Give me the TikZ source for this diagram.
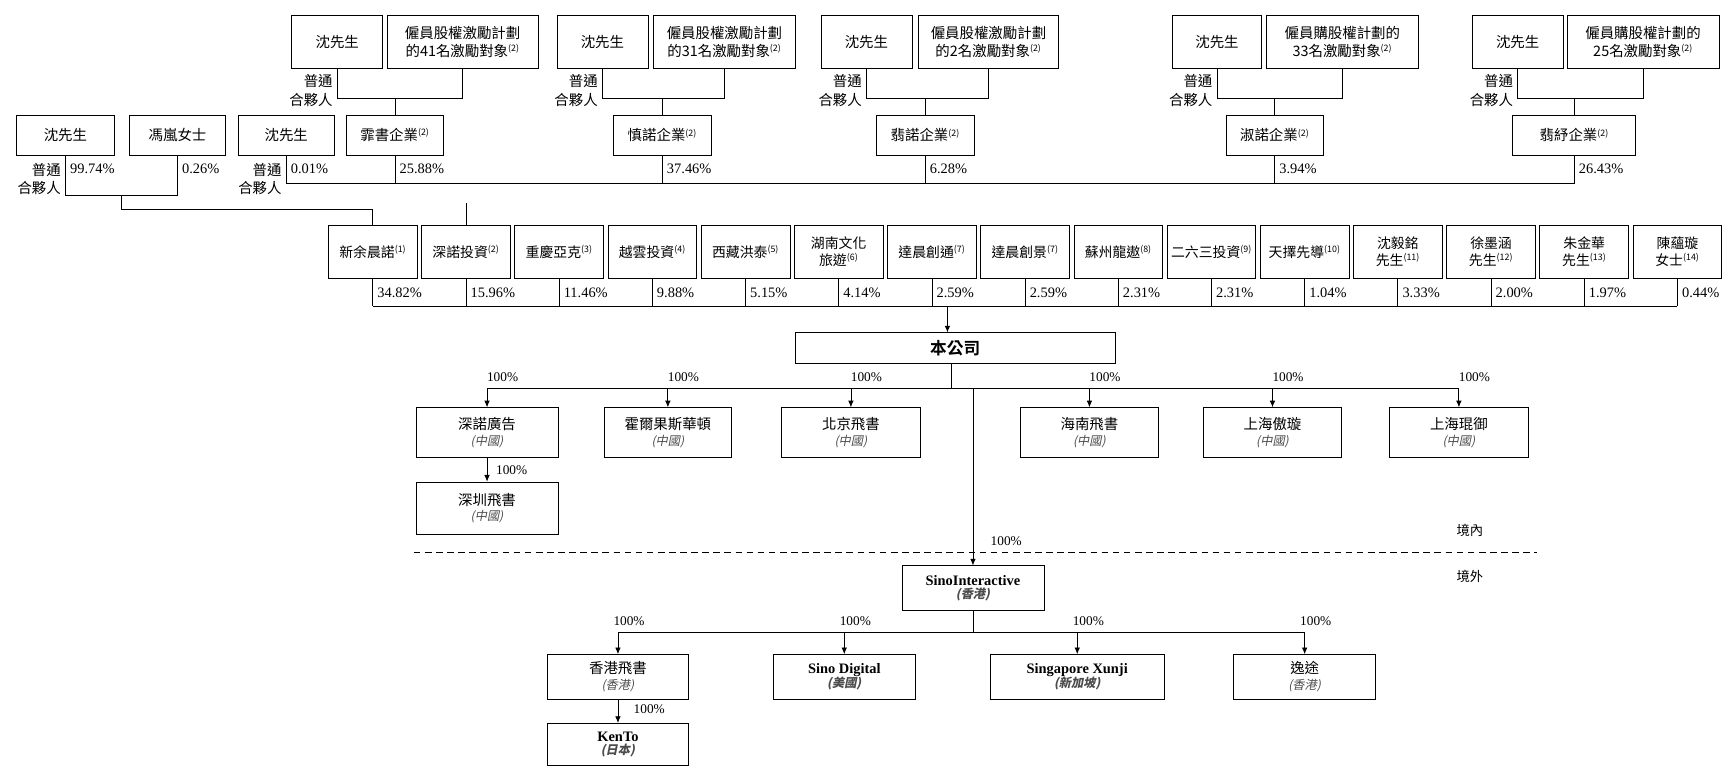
\documentclass[tikz,border=0pt]{standalone}
\usepackage{fontspec}
\setmainfont{Liberation Serif}
\newfontfamily\cjk{Noto Sans CJK TC}[BoldFont={Noto Sans CJK TC Bold}]
\newfontfamily\cjki{Noto Sans CJK TC}[FakeSlant=0.2]
\usetikzlibrary{arrows.meta,calc}
\newcommand{\fnm}[1]{\textsuperscript{\fontsize{8}{8}\selectfont(#1)}}
\newcommand{\loc}[1]{\\[-2pt]{\cjki\color{black!70}\fontsize{11}{13}\selectfont(#1)}}
\begin{document}
\begin{tikzpicture}[x=1pt,y=-1pt,
  bx/.style={draw,line width=0.7pt,align=center,inner sep=0pt,font=\cjk\fontsize{13}{16}\selectfont},
  pct/.style={anchor=west,inner sep=0pt,font=\fontsize{13}{15}\selectfont},
  gp/.style={anchor=east,inner sep=0pt,align=right,font=\cjk\fontsize{13}{17}\selectfont},
  ln/.style={line width=0.7pt},
  ar/.style={line width=0.7pt,-{Latex[length=6pt,width=5pt]}},
  lab/.style={inner sep=0pt,font=\fontsize{12}{14}\selectfont}]
\useasboundingbox (0,0) rectangle (1563,698);
% top row
\foreach \n/\x/\w in {t1a/304/82,t2a/543/82,t3a/781/82,t4a/1097/80,t5a/1368/82}
  \node[bx,minimum width=\w,minimum height=48] (\n) at (\x,38) {沈先生};
\node[bx,minimum width=136,minimum height=48] (t1b) at (417,38) {僱員股權激勵計劃\\的41名激勵對象\fnm{2}};
\node[bx,minimum width=128,minimum height=48] (t2b) at (653,38) {僱員股權激勵計劃\\的31名激勵對象\fnm{2}};
\node[bx,minimum width=126,minimum height=48] (t3b) at (891,38) {僱員股權激勵計劃\\的2名激勵對象\fnm{2}};
\node[bx,minimum width=137,minimum height=48] (t4b) at (1210,38) {僱員購股權計劃的\\33名激勵對象\fnm{2}};
\node[bx,minimum width=137,minimum height=48] (t5b) at (1481,38) {僱員購股權計劃的\\25名激勵對象\fnm{2}};
% row 2
\node[bx,minimum width=88,minimum height=36] (s0) at (59,122) {沈先生};
\node[bx,minimum width=87,minimum height=36] (fl) at (160,122) {馮嵐女士};
\node[bx,minimum width=87,minimum height=36] (s2) at (258,122) {沈先生};
\node[bx,minimum width=88,minimum height=36] (e1) at (356,122) {霏書企業\fnm{2}};
\node[bx,minimum width=88,minimum height=36] (e2) at (597,122) {慎諾企業\fnm{2}};
\node[bx,minimum width=88,minimum height=36] (e3) at (834,122) {翡諾企業\fnm{2}};
\node[bx,minimum width=88,minimum height=36] (e4) at (1149,122) {淑諾企業\fnm{2}};
\node[bx,minimum width=111,minimum height=36] (e5) at (1419,122) {翡紓企業\fnm{2}};
\coordinate (h1) at (0,89);
\foreach \i in {1,...,5}{
  \draw[ln] (t\i a.south) -- (t\i a.south |- h1) -- (t\i b.south |- h1) -- (t\i b.south);
  \draw[ln] (e\i.north) -- (e\i.north |- h1);
  \node[gp] at ($(t\i a.south)+(-4,19)$) {普通\\合夥人};
}
% row 2 connections
\coordinate (h2) at (0,165);
\draw[ln] (s2.south) -- (s2.south |- h2) -- (e5.south |- h2) -- (e5.south);
\foreach \i in {1,...,4} \draw[ln] (e\i.south) -- (e\i.south |- h2);
\node[gp] at ($(s2.south)+(-4,21)$) {普通\\合夥人};
\node[pct] at ($(s2.south)+(4,12)$) {0.01\%};
\foreach \i/\p in {1/25.88,2/37.46,3/6.28,4/3.94,5/26.43}
  \node[pct] at ($(e\i.south)+(4,12)$) {\p\%};
\coordinate (h3) at (0,176);
\draw[ln] (s0.south) -- (s0.south |- h3) -- (fl.south |- h3) -- (fl.south);
\node[gp] at ($(s0.south)+(-4,21)$) {普通\\合夥人};
\node[pct] at ($(s0.south)+(4,12)$) {99.74\%};
\node[pct] at ($(fl.south)+(4,12)$) {0.26\%};
% row 3
\foreach \i/\t in {0/新余晨諾\fnm{1},1/深諾投資\fnm{2},2/重慶亞克\fnm{3},3/越雲投資\fnm{4},4/西藏洪泰\fnm{5},5/湖南文化\\旅遊\fnm{6},6/達晨創通\fnm{7},7/達晨創景\fnm{7},8/蘇州龍遨\fnm{8},9/二六三投資\fnm{9},10/天擇先導\fnm{10},11/沈毅銘\\先生\fnm{11},12/徐墨涵\\先生\fnm{12},13/朱金華\\先生\fnm{13},14/陳蘊璇\\女士\fnm{14}}
  \node[bx,minimum width=80,minimum height=48,font=\cjk\fontsize{12.5}{15}\selectfont] (r\i) at ({336+84*\i},227) {\t};
\coordinate (h4) at (0,276);
\draw[ln] (r0.south |- h4) -- (r14.south |- h4);
\foreach \i/\p in {0/34.82,1/15.96,2/11.46,3/9.88,4/5.15,5/4.14,6/2.59,7/2.59,8/2.31,9/2.31,10/1.04,11/3.33,12/2.00,13/1.97,14/0.44}{
  \draw[ln] (r\i.south) -- (r\i.south |- h4);
  \node[pct] at ($(r\i.south)+(4,13)$) {\p\%};
}
\draw[ln] ($(s0.south |- h3)!0.5!(fl.south |- h3)$) coordinate (m0) -- (m0 |- 0,189) -- (r0.north |- 0,189) -- (r0.north);
\draw[ln] (e1.south -| r1.north) ++(0,43) coordinate (q) -- (r1.north);
% company
\node[bx,minimum width=289,minimum height=28,font=\cjk\bfseries\fontsize{15}{17}\selectfont] (bm) at (861,314) {本公司};
\coordinate (a1) at (854,276);
\draw[ar] (a1) -- (a1 |- bm.north);
% subsidiaries
\node[bx,minimum width=128,minimum height=45] (c1) at (439,390) {深諾廣告\loc{中國}};
\node[bx,minimum width=115,minimum height=45] (c2) at (602,390) {霍爾果斯華頓\loc{中國}};
\node[bx,minimum width=125,minimum height=45] (c3) at (767,390) {北京飛書\loc{中國}};
\node[bx,minimum width=125,minimum height=45] (c4) at (982,390) {海南飛書\loc{中國}};
\node[bx,minimum width=125,minimum height=45] (c5) at (1147,390) {上海傲璇\loc{中國}};
\node[bx,minimum width=125,minimum height=45] (c6) at (1315,390) {上海琨御\loc{中國}};
\node[bx,minimum width=128,minimum height=47] (c7) at (439,458) {深圳飛書\loc{中國}};
\coordinate (h5) at (0,350);
\draw[ln] (bm.south -| 858,0) -- (858,350);
\draw[ln] (c1.north |- h5) -- (c6.north |- h5);
\foreach \i in {1,...,6}{
  \draw[ar] (c\i.north |- h5) -- (c\i.north);
  \node[lab] at ($(c\i.north |- h5)+(14,-10)$) {100\%};
}
\draw[ar] (c1.south) -- (c7.north);
\node[lab,anchor=west] at ($(c1.south)+(8,11)$) {100\%};
% border
\draw[ln,dashed,dash pattern=on 6pt off 4pt] (373,498) coordinate (d1) -- (1385,498) coordinate (d2);
\node[font=\cjk\fontsize{12}{14}\selectfont] at (1325,478) {境內};
\node[font=\cjk\fontsize{12}{14}\selectfont] at (1325,520) {境外};
\node[bx,minimum width=128,minimum height=40,font=\bfseries\fontsize{13}{14}\selectfont] (si) at (877,530) {SinoInteractive\loc{香港}};
\draw[ar] (877,350) -- (si.north);
\node[lab] at (907,488) {100\%};
% overseas
\node[bx,minimum width=127,minimum height=40] (o1) at (557,610) {香港飛書\loc{香港}};
\node[bx,minimum width=128,minimum height=40,font=\bfseries\fontsize{13}{14}\selectfont] (o2) at (761,610) {Sino Digital\loc{美國}};
\node[bx,minimum width=157,minimum height=40,font=\bfseries\fontsize{13}{14}\selectfont] (o3) at (971,610) {Singapore Xunji\loc{新加坡}};
\node[bx,minimum width=128,minimum height=40] (o4) at (1176,610) {逸途\loc{香港}};
\node[bx,minimum width=127,minimum height=38,font=\bfseries\fontsize{13}{14}\selectfont] (o5) at (557,671) {KenTo\loc{日本}};
\coordinate (h6) at (0,570);
\draw[ln] (si.south) -- (si.south |- h6);
\draw[ln] (o1.north |- h6) -- (o4.north |- h6);
\foreach \i in {1,...,4}{
  \draw[ar] (o\i.north |- h6) -- (o\i.north);
  \node[lab] at ($(o\i.north |- h6)+(10,-10)$) {100\%};
}
\draw[ar] (o1.south) -- (o5.north);
\node[lab,anchor=west] at ($(o1.south)+(14,9)$) {100\%};
\end{tikzpicture}
\end{document}
